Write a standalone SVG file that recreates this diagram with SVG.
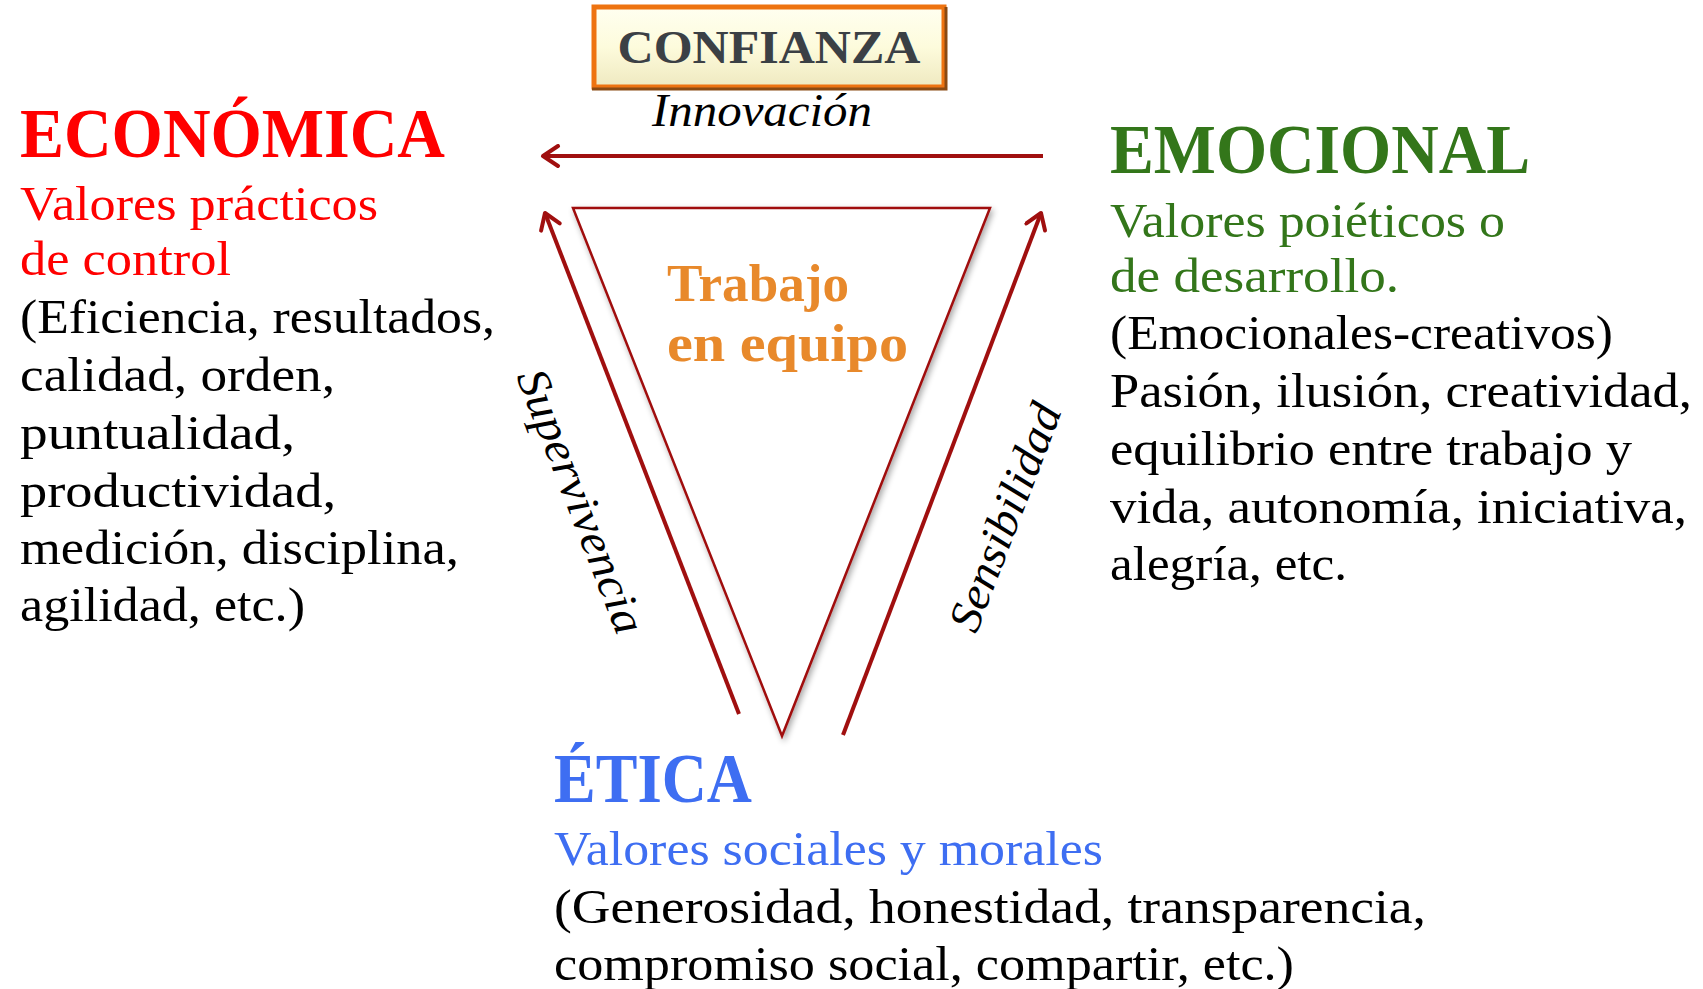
<svg xmlns="http://www.w3.org/2000/svg" width="1703" height="989" viewBox="0 0 1703 989">
<style>
.t{font-family:"Liberation Serif","Times New Roman",serif}
.b{font-weight:bold}
.body{font-size:48px;fill:#000}
.red{fill:#ff0000}
.grn{fill:#33761a}
.blu{fill:#3e6ef2}
.org{fill:#e8892b}
.scr{font-family:"Liberation Serif",serif;font-style:italic;font-size:46px;fill:#000}
.conn{stroke:#a00f0f;stroke-width:4;fill:none}
</style>
<defs>
<marker id="ah" viewBox="0 0 24 24" refX="20" refY="12" markerWidth="24" markerHeight="24" orient="auto" markerUnits="userSpaceOnUse">
<path d="M5,2 L20,12 L5,22" fill="none" stroke="#a00f0f" stroke-width="4" stroke-linecap="round" stroke-linejoin="round"/>
</marker>
<linearGradient id="cg" x1="0" y1="0" x2="0" y2="1">
<stop offset="0" stop-color="#fffff0"/>
<stop offset="0.5" stop-color="#fdfbdc"/>
<stop offset="1" stop-color="#efe9c0"/>
</linearGradient>
<filter id="sh" x="-10%" y="-10%" width="120%" height="120%">
<feGaussianBlur in="SourceAlpha" stdDeviation="3"/>
<feOffset dx="2" dy="3" result="o"/>
<feComponentTransfer><feFuncA type="linear" slope="0.35"/></feComponentTransfer>
<feMerge><feMergeNode/><feMergeNode in="SourceGraphic"/></feMerge>
</filter>
</defs>
<rect width="1703" height="989" fill="#fff"/>

<g id="confianza">
<rect x="594" y="7" width="350" height="80" fill="url(#cg)" stroke="#ee7310" stroke-width="5"/>
<path d="M946,7 L946,89 L592,89" fill="none" stroke="#8a4a12" stroke-width="3"/>
<text class="t b" x="769" y="63" font-size="46" fill="#3b4045" text-anchor="middle" textLength="303" lengthAdjust="spacingAndGlyphs">CONFIANZA</text>
</g>

<g id="connectors">
<line class="conn" x1="1043" y1="156" x2="543" y2="156" marker-end="url(#ah)"/>
<line class="conn" x1="739" y1="714" x2="545" y2="213" marker-end="url(#ah)"/>
<line class="conn" x1="843" y1="735" x2="1041" y2="213" marker-end="url(#ah)"/>
<text class="scr" x="762" y="126" text-anchor="middle" textLength="220" lengthAdjust="spacingAndGlyphs">Innovación</text>
<text class="scr" transform="translate(579,502) rotate(68.7)" x="0" y="13" text-anchor="middle" textLength="280" lengthAdjust="spacingAndGlyphs">Supervivencia</text>
<text class="scr" transform="translate(1007,518) rotate(-69)" x="0" y="13" text-anchor="middle" textLength="240" lengthAdjust="spacingAndGlyphs">Sensibilidad</text>
</g>

<g id="trabajo">
<polygon points="573,208 990,208 782,736" fill="#fff" stroke="#a00f0f" stroke-width="2.5" filter="url(#sh)"/>
<text class="t b org" x="667" y="301" font-size="52" textLength="182" lengthAdjust="spacingAndGlyphs">Trabajo</text>
<text class="t b org" x="667" y="361" font-size="52" textLength="241" lengthAdjust="spacingAndGlyphs">en equipo</text>
</g>

<g id="economica">
<text class="t b red" x="20" y="157" font-size="70" textLength="425" lengthAdjust="spacingAndGlyphs">ECONÓMICA</text>
<text class="t red" x="20" y="220" font-size="48" textLength="358" lengthAdjust="spacingAndGlyphs">Valores prácticos</text>
<text class="t red" x="20" y="275" font-size="48" textLength="211" lengthAdjust="spacingAndGlyphs">de control</text>
<text class="t body" x="20" y="333" textLength="475" lengthAdjust="spacingAndGlyphs">(Eficiencia, resultados,</text>
<text class="t body" x="20" y="391" textLength="315" lengthAdjust="spacingAndGlyphs">calidad, orden,</text>
<text class="t body" x="20" y="449" textLength="275" lengthAdjust="spacingAndGlyphs">puntualidad,</text>
<text class="t body" x="20" y="507" textLength="316" lengthAdjust="spacingAndGlyphs">productividad,</text>
<text class="t body" x="20" y="564" textLength="439" lengthAdjust="spacingAndGlyphs">medición, disciplina,</text>
<text class="t body" x="20" y="621" textLength="285" lengthAdjust="spacingAndGlyphs">agilidad, etc.)</text>
</g>

<g id="emocional">
<text class="t b grn" x="1110" y="173" font-size="70" textLength="420" lengthAdjust="spacingAndGlyphs">EMOCIONAL</text>
<text class="t grn" x="1110" y="237" font-size="48" textLength="395" lengthAdjust="spacingAndGlyphs">Valores poiéticos o</text>
<text class="t grn" x="1110" y="292" font-size="48" textLength="289" lengthAdjust="spacingAndGlyphs">de desarrollo.</text>
<text class="t body" x="1110" y="349" textLength="503" lengthAdjust="spacingAndGlyphs">(Emocionales-creativos)</text>
<text class="t body" x="1110" y="407" textLength="582" lengthAdjust="spacingAndGlyphs">Pasión, ilusión, creatividad,</text>
<text class="t body" x="1110" y="465" textLength="522" lengthAdjust="spacingAndGlyphs">equilibrio entre trabajo y</text>
<text class="t body" x="1110" y="523" textLength="577" lengthAdjust="spacingAndGlyphs">vida, autonomía, iniciativa,</text>
<text class="t body" x="1110" y="580" textLength="237" lengthAdjust="spacingAndGlyphs">alegría, etc.</text>
</g>

<g id="etica">
<text class="t b blu" x="554" y="802" font-size="70" textLength="198" lengthAdjust="spacingAndGlyphs">ÉTICA</text>
<text class="t blu" x="554" y="865" font-size="48" textLength="549" lengthAdjust="spacingAndGlyphs">Valores sociales y morales</text>
<text class="t body" x="554" y="923" textLength="872" lengthAdjust="spacingAndGlyphs">(Generosidad, honestidad, transparencia,</text>
<text class="t body" x="554" y="980" textLength="740" lengthAdjust="spacingAndGlyphs">compromiso social, compartir, etc.)</text>
</g>
</svg>
